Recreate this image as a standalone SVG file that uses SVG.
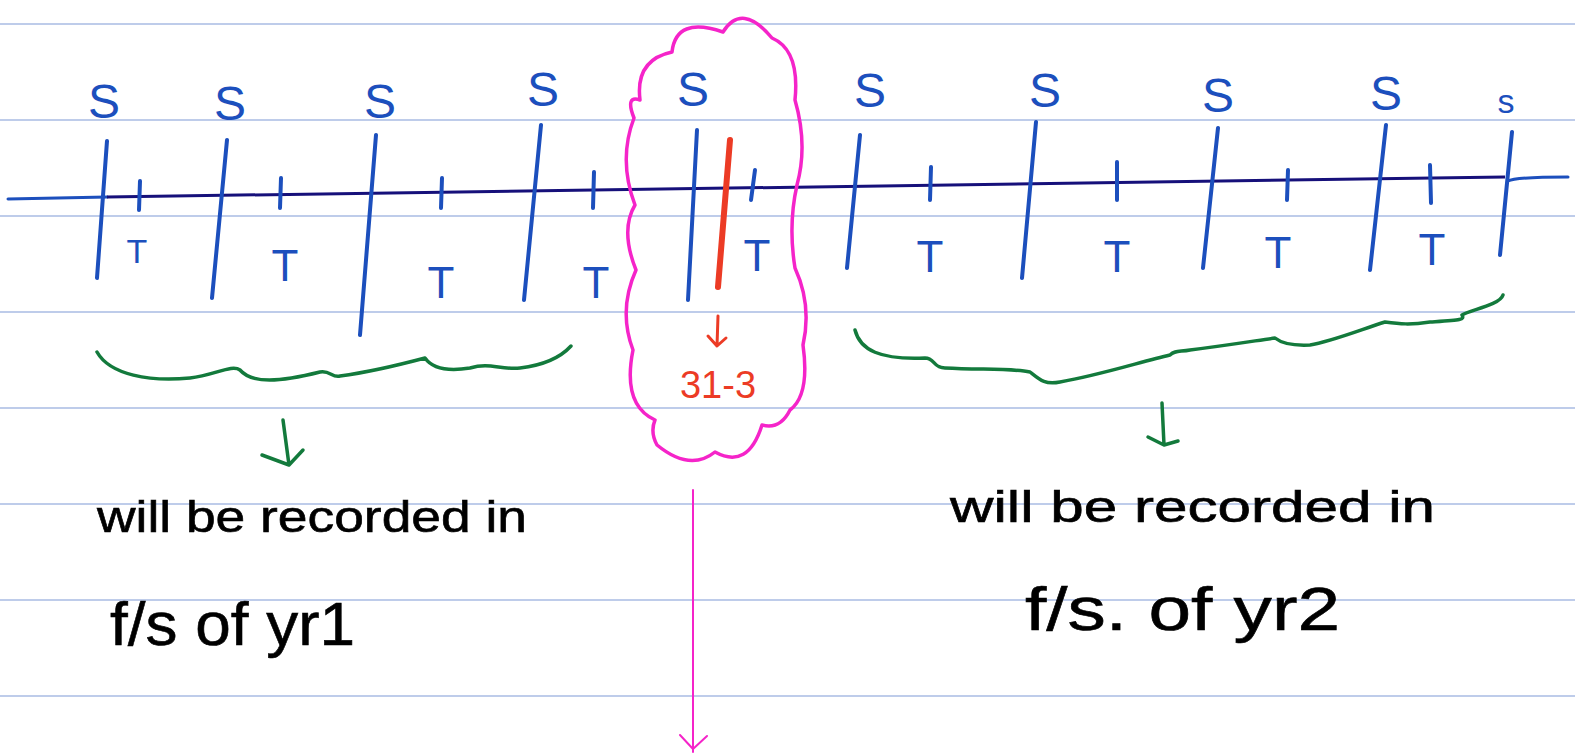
<svg xmlns="http://www.w3.org/2000/svg" width="1575" height="755" viewBox="0 0 1575 755">
<style>
.rule{stroke:#a9bbe3;stroke-width:1.5}
.blue{stroke:#1c4fbd;stroke-width:4;stroke-linecap:round;fill:none}
.navy{stroke:#16107a;stroke-width:3;fill:none}
.green{stroke:#137a3c;stroke-width:3.5;fill:none;stroke-linecap:round;stroke-linejoin:round}
.mag{stroke:#f524c9;stroke-width:3.5;fill:none;stroke-linecap:round;stroke-linejoin:round}
.red{stroke:#ec3b25;fill:none;stroke-linecap:round;stroke-linejoin:round}
.lbl{font-family:"Liberation Sans",sans-serif;fill:#1c4fbd;text-anchor:middle}
.hw{font-family:"Liberation Sans",sans-serif;fill:#000;stroke:#000;stroke-width:0.6}
</style>
<rect width="1575" height="755" fill="#fff"/>
<g id="rules">
<line class="rule" x1="0" y1="24" x2="1575" y2="24"/>
<line class="rule" x1="0" y1="120" x2="1575" y2="120"/>
<line class="rule" x1="0" y1="216" x2="1575" y2="216"/>
<line class="rule" x1="0" y1="312" x2="1575" y2="312"/>
<line class="rule" x1="0" y1="408" x2="1575" y2="408"/>
<line class="rule" x1="0" y1="504" x2="1575" y2="504"/>
<line class="rule" x1="0" y1="600" x2="1575" y2="600"/>
<line class="rule" x1="0" y1="696" x2="1575" y2="696"/>
</g>
<g id="timeline">
<line class="blue" x1="8" y1="199" x2="107" y2="197" style="stroke-width:3"/>
<line class="navy" x1="107" y1="197" x2="1505" y2="177"/>
<path class="blue" style="stroke-width:3" d="M1508,181 Q1515,177 1568,177"/>
</g>
<g id="s-ticks">
<line class="blue" x1="107" y1="141" x2="97" y2="278"/>
<line class="blue" x1="227" y1="140" x2="212" y2="298"/>
<line class="blue" x1="376" y1="135" x2="360" y2="335"/>
<line class="blue" x1="541" y1="125" x2="524" y2="300"/>
<line class="blue" x1="697" y1="130" x2="688" y2="300"/>
<line class="blue" x1="860" y1="135" x2="847" y2="268"/>
<line class="blue" x1="1036" y1="122" x2="1022" y2="278"/>
<line class="blue" x1="1218" y1="128" x2="1203" y2="268"/>
<line class="blue" x1="1386" y1="125" x2="1370" y2="270"/>
<line class="blue" x1="1512" y1="132" x2="1500" y2="255"/>
</g>
<g id="s-labels">
<text class="lbl" x="104" y="118" font-size="48">S</text>
<text class="lbl" x="230" y="120" font-size="48">S</text>
<text class="lbl" x="380" y="118" font-size="48">S</text>
<text class="lbl" x="543" y="106" font-size="48">S</text>
<text class="lbl" x="693" y="106" font-size="48">S</text>
<text class="lbl" x="870" y="107" font-size="48">S</text>
<text class="lbl" x="1045" y="107" font-size="48">S</text>
<text class="lbl" x="1218" y="112" font-size="48">S</text>
<text class="lbl" x="1386" y="110" font-size="48">S</text>
<text class="lbl" x="1506" y="113" font-size="34">s</text>
</g>
<g id="t-ticks">
<line class="blue" x1="140" y1="181" x2="139" y2="210"/>
<line class="blue" x1="281" y1="178" x2="280" y2="208"/>
<line class="blue" x1="442" y1="178" x2="441" y2="208"/>
<line class="blue" x1="594" y1="172" x2="593" y2="208"/>
<line class="blue" x1="755" y1="170" x2="751" y2="200"/>
<line class="blue" x1="931" y1="167" x2="930" y2="200"/>
<line class="blue" x1="1117" y1="162" x2="1117" y2="200"/>
<line class="blue" x1="1288" y1="170" x2="1287" y2="200"/>
<line class="blue" x1="1430" y1="165" x2="1431" y2="203"/>
</g>
<g id="t-labels">
<text class="lbl" x="137" y="263" font-size="34">T</text>
<text class="lbl" x="285" y="281" font-size="44">T</text>
<text class="lbl" x="441" y="298" font-size="44">T</text>
<text class="lbl" x="596" y="298" font-size="44">T</text>
<text class="lbl" x="757" y="271" font-size="44">T</text>
<text class="lbl" x="930" y="272" font-size="44">T</text>
<text class="lbl" x="1117" y="272" font-size="44">T</text>
<text class="lbl" x="1278" y="268" font-size="44">T</text>
<text class="lbl" x="1432" y="265" font-size="44">T</text>
</g>
<g id="cloud">
<path class="mag" d="M672,52 Q676,16 723,32 Q742,2 772,38 Q800,50 795,100 Q808,145 797,185 Q788,225 795,268 Q812,305 803,345 Q810,395 790,410 Q780,430 762,425 Q748,470 715,452 Q690,472 657,445 Q650,432 655,420 Q622,405 633,350 Q618,310 636,270 Q620,230 635,205 Q618,160 634,118 Q625,95 640,100 Q635,60 672,52 Z"/>
<line class="red" x1="730" y1="140" x2="718" y2="287" style="stroke-width:6"/>
<path class="red" style="stroke-width:3" d="M718,316 L717,346 M708,336 L717,346 L726,338"/>
<text x="718" y="398" font-family="Liberation Sans, sans-serif" font-size="38" fill="#ec3b25" text-anchor="middle">31-3</text>
</g>
<g id="braces">
<path class="green" d="M97,352 C110,375 150,382 190,378 C215,375 232,364 240,370 C252,384 280,382 320,372 C330,370 332,378 340,376 C370,372 410,362 425,358 C432,368 445,372 470,368 C490,362 500,370 520,368 C545,365 560,358 571,346"/>
<path class="green" d="M855,330 C860,350 880,360 925,358 C935,358 933,368 945,368 C980,370 1010,368 1030,372 C1040,380 1045,385 1060,382 C1100,375 1140,362 1170,355 C1175,350 1180,352 1190,350 C1230,345 1260,340 1275,338 C1280,342 1290,346 1310,345 C1330,342 1360,330 1385,322 C1400,324 1410,325 1430,322 C1460,320 1465,320 1462,315 C1470,310 1500,305 1503,295"/>
</g>
<g id="connectors">
<path class="green" d="M283,420 L289,465 M262,455 L289,465 L303,450"/>
<path class="green" d="M1162,403 L1164,445 M1148,437 L1164,445 L1178,441"/>
<path class="mag" style="stroke-width:2" d="M693,490 L693,752 M680,735 L693,749 L707,736"/>
</g>
<g id="text">
<text class="hw" x="97" y="532" font-size="44" textLength="430" lengthAdjust="spacingAndGlyphs">will be recorded in</text>
<text class="hw" x="110" y="645" font-size="62" textLength="245" lengthAdjust="spacingAndGlyphs">f/s of yr1</text>
<text class="hw" x="950" y="522" font-size="44" textLength="485" lengthAdjust="spacingAndGlyphs">will be recorded in</text>
<text class="hw" x="1025" y="630" font-size="62" textLength="315" lengthAdjust="spacingAndGlyphs">f/s. of yr2</text>
</g>
</svg>
